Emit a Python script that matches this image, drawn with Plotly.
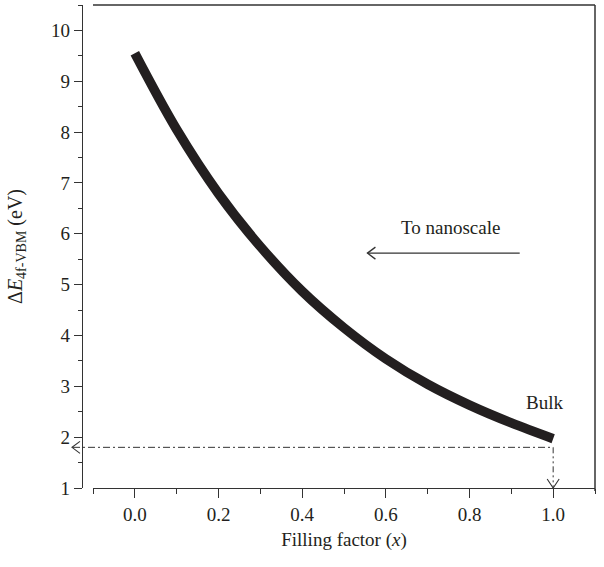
import plotly.graph_objects as go

# ---- data ----
filling_factor = [0.0, 0.1, 0.2, 0.3, 0.4, 0.5, 0.6, 0.7, 0.8, 0.9, 1.0]
delta_e = [9.55, 8.05, 6.79, 5.75, 4.87, 4.15, 3.54, 3.04, 2.63, 2.28, 1.97]
bulk_level = 1.8
x_ticks = [0.0, 0.2, 0.4, 0.6, 0.8, 1.0]
x_ticklabels = ["0.0", "0.2", "0.4", "0.6", "0.8", "1.0"]
y_ticks = [1, 2, 3, 4, 5, 6, 7, 8, 9, 10]

# ---- layout constants ----
W, H = 604, 567
ML, MR, MT, MB = 82, 9, 5, 79
PW, PH = W - ML - MR, H - MT - MB
X0 = 11 / PW  # x-axis domain start (y-axis offset)
XR = [-0.1, 1.1]
YR = [1, 10.5]
INK = "#231f20"
FONT = "Liberation Serif, Times New Roman, serif"

dxpx = (XR[1] - XR[0]) / ((1 - X0) * PW)  # data x per pixel
dypx = (YR[1] - YR[0]) / PH  # data y per pixel


def xpaper(v):
    return X0 + (1 - X0) * (v - XR[0]) / (XR[1] - XR[0])


fig = go.Figure()
fig.add_trace(go.Scatter(
    x=filling_factor, y=delta_e, mode="lines",
    line=dict(color=INK, width=9.5, shape="spline", smoothing=1.0),
    hoverinfo="skip", showlegend=False,
))

shapes = []
# frame: top and right
shapes.append(dict(type="line", xref="paper", yref="paper", x0=X0, x1=1, y0=1, y1=1,
                   line=dict(color="#333", width=1.3)))
shapes.append(dict(type="line", xref="paper", yref="paper", x0=1, x1=1,
                   y0=1, y1=-3 / PH, line=dict(color="#333", width=1.5)))

# horizontal dash-dot line at bulk level to the y axis (with open arrowhead)
tip_px = -10  # pixels left of y axis line
tip_paper = tip_px / PW
shapes.append(dict(type="line", xref="paper", yref="y", x0=tip_paper + 1 / PW, x1=xpaper(1.0),
                   y0=bulk_level, y1=bulk_level,
                   line=dict(color="#333", width=1, dash="7px,3px,2px,3px")))
shapes.append(dict(type="path", xref="paper", yref="y",
                   path=f"M {tip_paper + 8 / PW},{bulk_level + 6 * dypx} L {tip_paper},{bulk_level} "
                        f"L {tip_paper + 8 / PW},{bulk_level - 6 * dypx}",
                   line=dict(color="#333", width=1.1)))

# vertical dash-dot-dot line from the bulk point down to the x axis
shapes.append(dict(type="line", xref="x", yref="y", x0=1.0, x1=1.0, y0=bulk_level, y1=YR[0],
                   line=dict(color="#333", width=1, dash="6px,3px,2px,3px,2px,3px")))
shapes.append(dict(type="path", xref="x", yref="paper",
                   path=f"M {1.0 - 6 * dxpx},{9 / PH} L 1.0,0 L {1.0 + 6 * dxpx},{9 / PH}",
                   line=dict(color="#333", width=1.1)))

# "To nanoscale" arrow
ax0, ax1, ay = 0.92, 0.556, 5.62
shapes.append(dict(type="line", xref="x", yref="y", x0=ax0, x1=ax1, y0=ay, y1=ay,
                   line=dict(color="#333", width=1.3)))
shapes.append(dict(type="path", xref="x", yref="y",
                   path=f"M {ax1 + 8 * dxpx},{ay + 6 * dypx} L {ax1},{ay} L {ax1 + 8 * dxpx},{ay - 6 * dypx}",
                   line=dict(color="#333", width=1.3)))

annotations = [
    dict(x=0.754, y=6.13, xref="x", yref="y", text="To nanoscale", showarrow=False,
         font=dict(family=FONT, size=19, color=INK)),
    dict(x=0.93, y=2.68, xref="x", yref="y", text="Bulk", showarrow=False, xanchor="left",
         font=dict(family=FONT, size=19, color=INK)),
]

fig.update_layout(
    width=W, height=H,
    margin=dict(l=ML, r=MR, t=MT, b=MB, autoexpand=False),
    paper_bgcolor="white", plot_bgcolor="white",
    font=dict(family=FONT, size=19, color=INK),
    showlegend=False,
    shapes=shapes,
    annotations=annotations,
    xaxis=dict(
        domain=[X0, 1], range=XR, showgrid=False, zeroline=False, automargin=False,
        showline=True, linecolor="#333", linewidth=1.3,
        ticks="outside", ticklen=9, tickwidth=1.3, tickcolor="#333",
        tickvals=x_ticks, ticktext=x_ticklabels,
        minor=dict(dtick=0.1, tick0=0, ticks="outside", ticklen=5, tickwidth=1.3, tickcolor="#333"),
        tickfont=dict(family=FONT, size=19, color=INK),
        title=dict(text="Filling factor (<i>x</i>)", font=dict(family=FONT, size=19, color=INK), standoff=8),
    ),
    yaxis=dict(
        anchor="free", position=0, range=YR, showgrid=False, zeroline=False, automargin=False,
        showline=True, linecolor="#333", linewidth=1.3,
        ticks="outside", ticklen=8, tickwidth=1.3, tickcolor="#333",
        tickvals=y_ticks,
        minor=dict(dtick=0.5, tick0=0, ticks="outside", ticklen=4, tickwidth=1.3, tickcolor="#333"),
        tickfont=dict(family=FONT, size=19, color=INK),
        title=dict(text="Δ<i>E</i><sub>4f-VBM</sub> (eV)", font=dict(family=FONT, size=20, color=INK), standoff=22),
    ),
)

fig.write_html("out.html", config={"displayModeBar": False},
               post_script="document.body.style.margin='0';document.body.style.padding='0';"
                           "document.body.style.overflow='hidden';")
